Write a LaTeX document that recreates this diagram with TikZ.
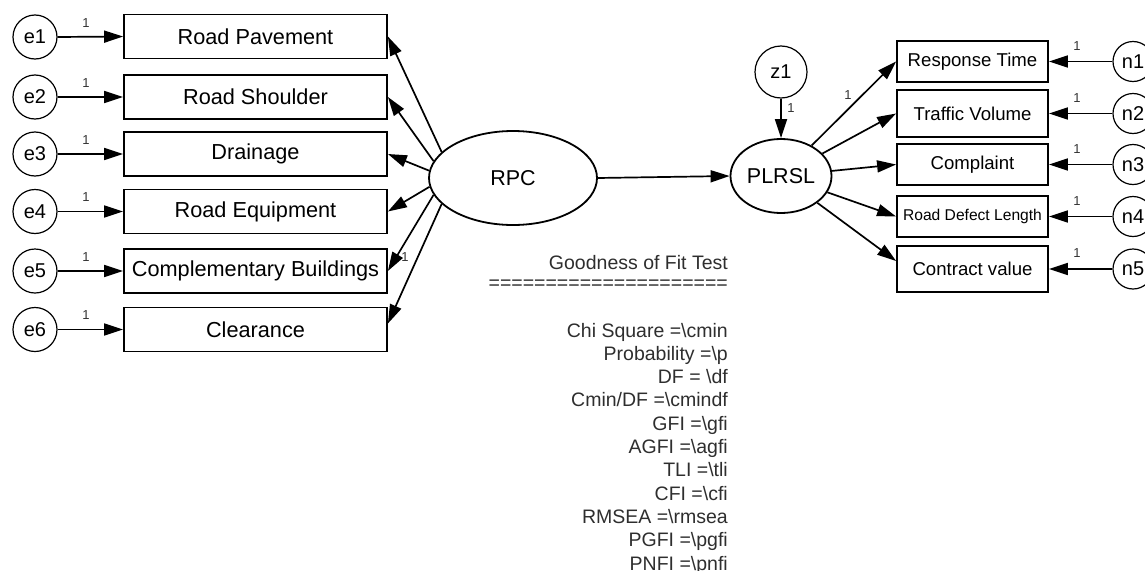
\documentclass[tikz,border=0pt]{standalone}
\usepackage{fontspec}
\setmainfont{Liberation Sans}
\usetikzlibrary{arrows.meta,shapes.geometric}
\newcommand{\mybs}{\textbackslash}
\tikzset{
  obsbox/.style={draw, line width=1.8pt, inner sep=0pt, minimum width=263pt, minimum height=44pt, font=\fontsize{21.7}{24}\selectfont},
  robox/.style={draw, line width=1.8pt, inner sep=0pt, minimum width=151pt, font=\fontsize{18.6}{21}\selectfont},
  errc/.style={draw, circle, line width=1.2pt, inner sep=0pt, minimum size=44pt, font=\fontsize{20}{22}\selectfont},
  nerr/.style={draw, circle, line width=1.2pt, inner sep=0pt, minimum size=40pt, font=\fontsize{20}{22}\selectfont},
  latent/.style={draw, ellipse, line width=1.8pt, inner sep=0pt, font=\fontsize{21.5}{24}\selectfont},
  pathar/.style={line width=1.7pt, -{Triangle[length=19pt,width=12pt]}},
  one/.style={inner sep=0pt, font=\fontsize{13}{13}\selectfont, text=black!80},
  fit/.style={inner sep=0pt, font=\fontsize{19.5}{23}\selectfont, text=black!82},
}
\begin{document}
\begin{tikzpicture}[x=1pt,y=-1pt]
\useasboundingbox (0,0) rectangle (1145,570);
% left indicators
\node[obsbox] (rp) at (255.5,36.5) {Road Pavement};
\node[obsbox] (rs) at (255.5,97) {Road Shoulder};
\node[obsbox] (dr) at (255.5,154) {Drainage};
\node[obsbox] (re) at (255.5,211.5) {Road Equipment};
\node[obsbox] (cb) at (255.5,271) {Complementary Buildings};
\node[obsbox] (cl) at (255.5,329.5) {Clearance};
% error terms
\node[errc] (e1) at (35,37) {e1};
\node[errc] (e2) at (35,97) {e2};
\node[errc] (e3) at (35,154) {e3};
\node[errc] (e4) at (35,211.5) {e4};
\node[errc] (e5) at (35,271) {e5};
\node[errc] (e6) at (35,329.5) {e6};
\foreach \e/\b in {e1/rp,e2/rs,e3/dr,e4/re,e5/cb,e6/cl}{
  \draw[pathar] (\e.east) -- (\b.west);
}
\node[one] (l1) at (86,23) {1};
\node[one] (l2) at (86,83) {1};
\node[one] (l3) at (86,140) {1};
\node[one] (l4) at (86,197.5) {1};
\node[one] (l5) at (86,257) {1};
\node[one] (l6) at (86,315.5) {1};
% latent variables
\node[latent, minimum width=168pt, minimum height=94pt] (rpc) at (513,178) {RPC};
\node[latent, minimum width=101pt, minimum height=74pt] (plrsl) at (781,176) {PLRSL};
\node[errc, minimum size=52pt] (z1) at (781,72) {z1};
% RPC loadings
\draw[pathar] (rpc.160) -- (rp.east);
\draw[pathar] (rpc.168) -- (rs.east);
\draw[pathar] (rpc.175) -- (dr.east);
\draw[pathar] (rpc.186) -- (re.east);
\draw[pathar] (rpc.192) -- (cb.east);
\draw[pathar] (rpc.200) -- ([yshift=6pt]cl.east);
\node[one] (lcb) at (405,257) {1};
% structural path
\draw[pathar] (rpc.east) -- (plrsl.west);
\draw[pathar] (z1.south) -- (plrsl.north);
\node[one] (lz) at (791,108) {1};
% right indicators
\node[robox, minimum height=41pt] (rt) at (972.5,61.5) {Response Time};
\node[robox, minimum height=47pt] (tv) at (972.5,113.5) {Traffic Volume};
\node[robox, minimum height=41pt] (co) at (972.5,164.5) {Complaint};
\node[robox, minimum height=41pt, font=\fontsize{15.6}{18}\selectfont] (rd) at (972.5,216.5) {Road Defect Length};
\node[robox, minimum height=46pt] (cv) at (972.5,269) {Contract value};
\node[nerr] (n1) at (1133,61.5) {n1};
\node[nerr] (n2) at (1133,113.5) {n2};
\node[nerr] (n3) at (1133,164.5) {n3};
\node[nerr] (n4) at (1133,216.5) {n4};
\node[nerr] (n5) at (1133,269) {n5};
\foreach \n/\b in {n1/rt,n2/tv,n3/co,n4/rd,n5/cv}{
  \draw[pathar] (\n.west) -- (\b.east);
}
\node[one] (m1) at (1077,46) {1};
\node[one] (m2) at (1077,98) {1};
\node[one] (m3) at (1077,149) {1};
\node[one] (m4) at (1077,201) {1};
\node[one] (m5) at (1077,253) {1};
\draw[pathar] (plrsl) -- (rt.west);
\draw[pathar] (plrsl) -- (tv.west);
\draw[pathar] (plrsl) -- (co.west);
\draw[pathar] (plrsl) -- (rd.west);
\draw[pathar] (plrsl) -- ([yshift=8pt]cv.west);
\node[one] (lrt) at (848,95) {1};
% goodness of fit
\node[fit, anchor=base east] (gtitle) at (728,269) {Goodness of Fit Test};
\node[fit, anchor=base east] (gline) at (728,289.5) {=====================};
\foreach \t [count=\i] in {Chi Square =\mybs cmin, Probability =\mybs p, DF = \mybs df, Cmin/DF =\mybs cmindf, GFI =\mybs gfi, AGFI =\mybs agfi, TLI =\mybs tli, CFI =\mybs cfi, RMSEA =\mybs rmsea, PGFI =\mybs pgfi, PNFI =\mybs pnfi}{
  \node[fit, anchor=base east] (g\i) at (728,{337+23.3*(\i-1)}) {\t};
}
\end{tikzpicture}
\end{document}
